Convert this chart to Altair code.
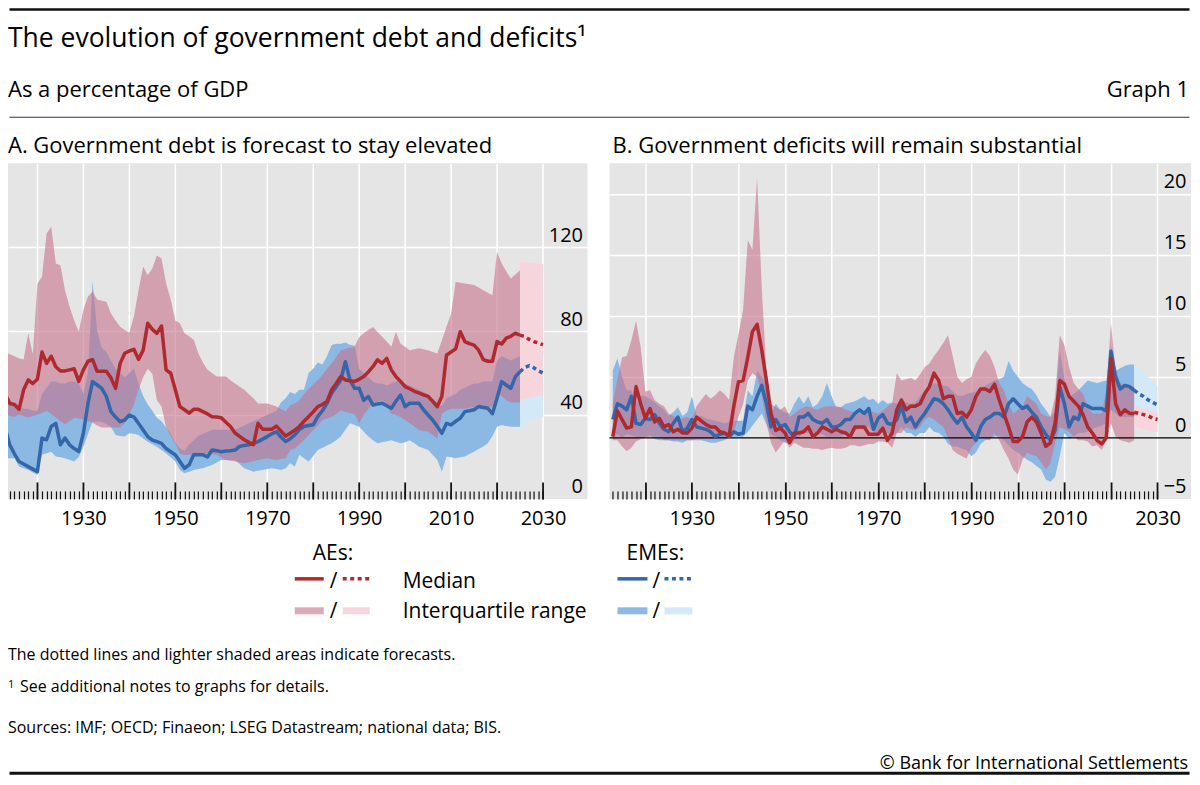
import altair as alt
import pandas as pd

FONT = "Open Sans"
GRAY = "#e5e5e5"
RED = "#ae2a2f"
BLUE = "#3566a9"
PINK = "#c7728a"
PINK_OP = 0.6
PINK_FC = "#f6d5dd"
LBLUE = "#8bb9e4"
LBLUE_FC = "#d3e9f7"

hist_years = list(range(1913, 2026))
fc_years = list(range(2025, 2031))
decades = list(range(1920, 2031, 10))

# ---------------- Panel A: government debt (% of GDP) ----------------
A_ae_med = [50, 45.5, 45, 42.7, 52, 56.7, 55, 57, 70, 64.6,
            68, 63, 61, 61, 61.5, 62, 56, 61.5, 65.6, 66.4,
            60.8, 60.8, 60.8, 57.7, 52.7, 64.6, 69.4, 70.5, 71.3, 66.5,
            70.8, 83.7, 80.8, 78.9, 82.4, 61.5, 59.9, 52, 44, 42.5,
            40.9, 42.7, 42.7, 41.6, 40.5, 39.2, 39, 38.7, 36.5, 34.5,
            31.4, 29.8, 28.2, 27, 25.8, 36, 33.2, 33.2, 33.2, 34.7,
            32.3, 30, 31.3, 32.8, 34.5, 37, 39.2, 41.5, 44, 45,
            46.5, 52, 55, 58.3, 56.7, 56.3, 56, 57, 58.3, 60.5,
            63, 66.3, 64.6, 67, 61.5, 58.3, 56, 53.5, 52.5, 51.3,
            50.5, 49.6, 48.9, 46.5, 44, 48.9, 68.5, 70, 71.5, 79.7,
            75, 74, 73.3, 70.9, 66.4, 65.6, 65.6, 75, 73.8, 76.6,
            77.5, 79, 78]
A_ae_lo = [40.2, 39.5, 39, 40.2, 39.5, 38.7, 39.5, 40.2, 41, 42,
           40.5, 38.7, 37, 35.6, 37, 38.7, 38.5, 38, 37, 36.3,
           35, 34, 34, 34, 34, 34, 36, 40.2, 45, 52,
           58, 62, 59.6, 47, 44, 34, 30, 26.5, 21.7, 20.9,
           21, 21, 21, 21.3, 21.7, 21.3, 21, 19.8, 18.6, 18.2,
           17.8, 17.4, 17, 17.5, 18, 18.6, 19, 19.4, 19, 18.6,
           19, 19.4, 23.3, 24, 26, 28, 30.5, 32.8, 35, 37.5,
           38.3, 39, 40.5, 42.2, 41.5, 41, 40.6, 36, 40, 43,
           45.5, 46.3, 47, 44, 40.6, 40, 39, 37.5, 36, 34.5,
           32.8, 32.4, 32, 30.5, 28.8, 40.6, 42, 43, 43, 43,
           43, 43.4, 43.8, 43.8, 43.8, 43.8, 44, 50, 49, 47,
           46, 46, 46]
A_ae_hi = [70, 69, 68, 67, 66.4, 79, 69, 102.7, 105.9, 126.5,
           129.7, 112.2, 111.4, 99.5, 91.6, 85, 79.7, 90, 96.5, 98.8,
           95, 94.5, 94, 88.4, 85, 82, 80.5, 79.3, 87, 99.5,
           110.6, 106.6, 109.8, 116, 114.6, 102.7, 95, 85, 83.7, 79,
           77.5, 75.9, 69.4, 65, 61.5, 60, 58.3, 58.3, 58.3, 56.5,
           55, 53.5, 52, 50, 48, 45.5, 45.5, 45.5, 44.8, 44,
           42.8, 41.6, 44.6, 45.5, 47, 50, 52.5, 54.5, 56.7, 59,
           62, 64.6, 67.5, 70.9, 71.5, 72, 72.5, 77, 79, 80.5,
           81.9, 79.5, 77.3, 75, 72.5, 79.7, 74, 72.5, 70.9, 71.3,
           71.8, 71.3, 70.9, 70, 69.3, 75.6, 82, 88.3, 103.5, 103,
           102.7, 102.3, 101.9, 100.7, 99.5, 98.3, 97.1, 117.8, 112.2, 108.5,
           105, 107, 109]
A_eme_med = [33.7, 25.7, 21.5, 17.8, 16.6, 15.4, 14.2, 13, 29, 28.2,
             34.5, 36, 25.8, 29, 25.8, 24, 22.6, 31.3, 45.5, 55.9,
             54.3, 52.7, 48.8, 41.6, 39, 36.8, 37.6, 40, 39, 36,
             32.8, 29.7, 28, 27.3, 26.5, 24, 22.5, 21, 17.8, 14.6,
             16.2, 21, 21, 21, 20, 23.3, 23, 22.5, 22.8, 23,
             23.3, 25, 25.5, 25.8, 26.5, 27.3, 28.5, 29.7, 31, 32,
             29.5, 27.3, 28.7, 30.5, 33, 34.5, 35, 35.3, 39.2, 42,
             45.5, 50.3, 53.5, 56.7, 65.4, 56.7, 52.7, 52.7, 47, 48.8,
             44.8, 45.2, 45.6, 44.4, 43.2, 46.5, 49.5, 44, 45.6, 45.6,
             45.6, 42.5, 40, 37.6, 34.5, 31.3, 36, 35.3, 37, 38.4,
             41.6, 42, 42.5, 44, 43.6, 43.2, 40.6, 48, 55.9, 54.3,
             52.7, 58.3, 60.6]
A_eme_lo = [19.4, 19.4, 19.4, 15.4, 14.6, 13.8, 12.6, 11.4, 21, 21.8,
            22.5, 20.2, 19.8, 19.4, 18.6, 17.8, 20, 24.9, 31, 36.8,
            36.8, 36.8, 35.6, 34.4, 30.4, 30, 29.7, 31.3, 31, 30.4,
            28.8, 27.3, 26, 24.9, 23.3, 21.7, 19.8, 17.8, 13.8, 12.2,
            13, 13.8, 14.2, 14.6, 15.4, 16.2, 17.4, 18.6, 18.6, 18.6,
            18.6, 16.6, 14.6, 13.8, 13, 13.4, 13.8, 14.2, 14.6, 14.2,
            13.8, 14.6, 17, 15.4, 21, 19.4, 17.8, 20.5, 23.3, 24.4,
            25.5, 26.5, 28, 29.7, 33, 36, 35.2, 34.4, 32, 29.7,
            28, 26.5, 27, 27.5, 28, 27.2, 26.5, 27, 28, 26.5,
            25, 24.2, 23.3, 21, 18.6, 13, 20.2, 19.8, 19.4, 19.8,
            20.2, 21.4, 22.5, 23.8, 25, 26.5, 30, 34.4, 35.2, 34.8,
            34.4, 34.4, 34.4]
A_eme_hi = [45, 45, 44, 44, 43, 43, 42, 42, 50, 53,
            56, 56, 55, 55, 56, 56, 55, 50, 60, 104,
            80, 72, 70, 66, 62, 60, 58, 60, 62, 55,
            49, 45, 42, 38.7, 37, 34, 31, 27, 24, 23,
            26, 28, 30, 31, 32, 33, 33, 33, 33, 33,
            33, 34, 35, 36, 37, 38, 39, 40, 41, 42,
            46, 48, 51, 50, 52, 52, 60, 62, 65, 64,
            68, 73.3, 74, 74, 74.5, 73.5, 73, 62, 60, 58,
            56, 55, 55, 54, 55, 56, 57, 55, 54, 53,
            52, 51, 50, 48, 46, 44, 48, 49, 50, 52,
            53, 54, 55, 55, 56, 56, 56, 66, 68, 67,
            66, 67, 68]
# forecasts 2025-2030
A_fc_ae_med = [78, 77.5, 76, 75, 74.3, 73.5]
A_fc_ae_lo = [47, 47.5, 48, 48.5, 49, 49.5]
A_fc_ae_hi = [113, 113, 112.5, 112.5, 112, 112]
A_fc_eme_med = [60.6, 62.6, 63.5, 62.5, 61, 60]
A_fc_eme_lo = [33, 35, 36.5, 37.5, 38.5, 39]
A_fc_eme_hi = [68, 69, 70, 70, 70, 70]

# ---------------- Panel B: government deficits (% of GDP) ----------------
B_ae_med = [0.1, 2.2, 1.5, 0.8, 0.9, 4.2, 2.8, 1.6, 2.4, 1.3,
            1.6, 0.9, 1.1, 0.5, 0.7, 0.4, 0.4, 0.8, 1.7, 1.4,
            1.1, 0.9, 0.9, 0.5, 0.4, 0.2, 2.6, 4.6, 4.7, 6.6,
            8.7, 9.3, 7.2, 4.7, 2, 0.6, 0.8, 0.4, -0.4, 0.4,
            0.4, 0.5, 0.9, 0.1, 0.4, 0.9, 0.7, 0.5, 0.7, 0.5,
            0.4, 0.1, 0.9, 0.9, 0.9, 0.3, 0.3, 0.3, 0.8, -0.2,
            0.4, 2.3, 3.1, 2.3, 2.6, 2.6, 2.8, 3.6, 4.2, 5.3,
            4.7, 3.2, 3.4, 3.4, 2, 2.1, 1.7, 2.3, 3.4, 4,
            4, 3.8, 4.4, 3.1, 2, 0.9, -0.3, -0.3, 0.1, 1.3,
            1.7, 1.3, 0.4, -0.7, -0.4, 1.2, 4.7, 4.4, 3.4, 3,
            2.6, 1.9, 0.9, 0.4, -0.2, -0.5, 0.0, 6.5, 2.8, 1.9,
            2.3, 2, 2]
B_ae_lo = [-0.2, -0.2, -0.7, -1.1, -0.8, -0.3, -0.1, 0, 0.1, 0.1,
           0.1, -0.2, -0.2, -0.2, -0.2, -0.2, -0.2, -0.2, -0.1, -0.1,
           -0.1, -0.1, -0.1, 0, 0, 0.1, 0.5, 1.7, 2.8, 4.7,
           5.3, 5, 3.5, 1.2, -0.4, -1.2, -0.7, -0.2, -0.8, -0.4,
           -0.6, -0.8, -0.8, -0.9, -0.9, -1, -0.9, -0.8, -0.9, -0.9,
           -0.8, -0.6, -0.6, -0.7, -0.6, -0.5, -0.5, -0.3, -0.3, -0.4,
           -0.8, 0.4, 0.4, 0.9, 0.7, 0.6, 0.9, 1.5, 1.7, 1.5,
           1.2, 0.9, 0, -1, -1.3, -1.5, -1.7, -0.8, -0.4, 0.1,
           -0.1, -0.2, 0.4, -0.2, -1, -1.7, -2.6, -3, -1.8, -1.2,
           -1.4, -1.5, -2, -2.6, -2.1, -0.4, 0.9, 0.7, 0.5, 0.1,
           -0.2, -0.2, -0.3, -0.7, -0.6, -1.0, -0.2, 1.2, 0.1, -0.2,
           -0.3, -0.4, -0.2]
B_ae_hi = [2.8, 4.8, 6.6, 6.7, 8, 9.6, 7.4, 3.8, 3.9, 3.1,
           2.8, 2.6, 2, 1.8, 1.5, 1.6, 1.7, 1.5, 2.6, 3.1,
           3.6, 3.2, 3.5, 3.9, 3.6, 3.1, 6.6, 8.5, 10.5, 16.2,
           15.4, 21.3, 12.3, 5.5, 2.8, 2.5, 2.3, 2.6, 1.7, 2,
           2.3, 2.5, 2.6, 2.4, 2.3, 2.5, 2.6, 2.6, 2.6, 2.5,
           2.3, 2.2, 2.1, 2, 2.1, 2.3, 2.1, 2, 2.2, 2.6,
           2.8, 5.3, 4.7, 4.8, 4.9, 4.7, 5.2, 5.8, 6.1, 6.7,
           7.2, 7.8, 8.4, 6.7, 5, 4.5, 4.8, 5, 6.1, 6.7,
           7.2, 6.7, 5.8, 4.5, 3.9, 2.8, 2, 2.3, 2.6, 3.4,
           3.1, 2.8, 2, 1.8, 1.7, 3.4, 8.4, 7.6, 5.8, 4.5,
           4, 3.6, 2.6, 2, 2, 2, 3.9, 9.4, 5.5, 4.5,
           4.3, 4.2, 4.2]
B_eme_med = [1.5, 2.8, 2.6, 2.3, 3.4, 1.2, 1.1, 1.6, 1.5, 1.9,
             1.2, 0.7, 0.5, 1.2, 1.7, 0.5, 0.8, 1.5, 0.9, 0.8,
             0.7, 0.5, 0.1, 0.3, 0.4, 0.1, 0.5, 0.3, 0.4, 2.6,
             2.3, 3.4, 4.3, 2.8, 0.9, 1.5, 0.9, 1.1, 0.5, 0.1,
             1.7, 1.7, 2, 1.5, 1.3, 1.2, 1.5, 0.9, 0.9, 1.1,
             1.5, 1.5, 2, 2.3, 2, 2.4, 0.7, 1.6, 1.9, 1.2,
             1.1, 1.5, 2.6, 1.3, 1.7, 0.9, 1.5, 2, 2.6, 3.2,
             3.1, 2.8, 2.3, 1.7, 1.2, 1.7, 0.9, 0.4, -0.2, 0.9,
             1.5, 1.7, 2, 2, 1.7, 2.8, 3.2, 2.8, 2.4, 2.6,
             2.1, 1.7, 0.9, 0.3, -0.2, 0.6, 4.2, 2.8, 0.9, 1.7,
             1.5, 2.8, 2.6, 2.4, 2.4, 2.4, 2.2, 7.1, 5, 4,
             4.3, 4.2, 3.9]
B_eme_lo = [0, 0.3, 0, 0.3, 0.2, 0.1, 0, 0.1, 0.2, -0.1,
            -0.2, -0.2, -0.2, -0.3, -0.3, -0.4, -0.2, -0.2, -0.2, -0.2,
            -0.3, -0.4, -0.4, -0.3, -0.2, 0, 0.1, 0.1, 0.1, 0.5,
            1, 1.5, 2, 1.1, 0.3, 0.1, -0.2, -0.4, -0.5, -0.2,
            0.1, 0.4, 0.4, 0.4, 0.4, 0.3, 0.1, 0.1, 0.1, 0.1,
            0.4, 0.4, 0.6, 0.7, 0.7, 0.9, 0.5, 0.4, 0.4, 0.4,
            0.1, 0.4, 0.9, 0.4, 0.4, 0.1, 0.4, 0.4, 0.9, 0.5,
            0.4, 0.1, -0.5, -0.7, -0.7, -0.9, -1, -1.5, -1.2, -0.5,
            -0.2, -0.1, 0.1, 0.2, -0.2, -0.6, -1, -1.2, -1.5, -1.8,
            -2, -2.3, -2.6, -3.4, -3.6, -3.2, -1.5, 0.4, -0.1, 0.1,
            0.4, 0.4, 0.5, 0.7, 0.9, 1, 1.2, 2.3, 2, 1.7,
            1.7, 1.7, 1.7]
B_eme_hi = [5.5, 6.5, 5, 3.9, 3.9, 2.8, 3.5, 3.4, 3.2, 2.9,
            2.6, 2.3, 1.8, 2.1, 2.5, 1.8, 2.1, 3.4, 1.8, 1.8,
            1.6, 1.5, 1.4, 1.3, 1.2, 1.3, 1.4, 1.4, 1.4, 3.9,
            3.4, 5.5, 5, 4.5, 2, 2.8, 2.3, 2.1, 2, 2.8,
            3.4, 2.8, 3.4, 2.5, 2.8, 3.4, 4.5, 3.4, 2.5, 2.5,
            2.8, 2.9, 3, 3.2, 3.4, 3.1, 3.2, 2.8, 3.1, 2.8,
            2.9, 2.8, 3.1, 2.9, 2.8, 2.9, 3.4, 3.9, 4.2, 4.5,
            4.4, 4.3, 4.2, 3.8, 3.5, 3.4, 3.6, 3.7, 3.8, 4.1,
            4.3, 4.5, 4.7, 4.8, 5, 6.3, 5.5, 5, 4.5, 4.2,
            4, 3.5, 2.8, 2.3, 1.7, 2.2, 7.2, 4.8, 3.4, 3.6,
            3.9, 4.3, 4.7, 4.6, 4.5, 4.6, 4.7, 7.5, 5.5, 5.7,
            5.9, 6, 6]
B_fc_ae_med = [2.1, 2.0, 1.9, 1.8, 1.6, 1.5]
B_fc_ae_lo = [0.9, 0.8, 0.7, 0.6, 0.5, 0.5]
B_fc_ae_hi = [2.7, 2.5, 2.4, 2.3, 2.1, 2.0]
B_fc_eme_med = [3.9, 3.6, 3.4, 3.1, 2.9, 2.7]
B_fc_eme_lo = [1.7, 1.6, 1.5, 1.4, 1.3, 1.2]
B_fc_eme_hi = [6.1, 5.8, 5.4, 5.0, 4.6, 4.2]

# ---------------- texts ----------------
TITLE = "The evolution of government debt and deficits\u00b9"
SUBTITLE = "As a percentage of GDP"
GRAPH_NO = "Graph 1"
TITLE_A = "A. Government debt is forecast to stay elevated"
TITLE_B = "B. Government deficits will remain substantial"
LEG_AE = "AEs:"
LEG_EME = "EMEs:"
LEG_MED = "Median"
LEG_IQR = "Interquartile range"
NOTE1 = "The dotted lines and lighter shaded areas indicate forecasts."
NOTE2 = "See additional notes to graphs for details."
SOURCES = "Sources: IMF; OECD; Finaeon; LSEG Datastream; national data; BIS."
COPYRIGHT = "\u00a9 Bank for International Settlements"


def frame(years, **cols):
    n = min([len(years)] + [len(v) for v in cols.values()])
    d = {"year": years[:n]}
    for k, v in cols.items():
        d[k] = v[:n]
    return pd.DataFrame(d)


A_hist = frame(hist_years, ae_med=A_ae_med, ae_lo=A_ae_lo, ae_hi=A_ae_hi,
               eme_med=A_eme_med, eme_lo=A_eme_lo, eme_hi=A_eme_hi)
A_fc = frame(fc_years, ae_med=A_fc_ae_med, ae_lo=A_fc_ae_lo, ae_hi=A_fc_ae_hi,
             eme_med=A_fc_eme_med, eme_lo=A_fc_eme_lo, eme_hi=A_fc_eme_hi)
B_hist = frame(hist_years, ae_med=B_ae_med, ae_lo=B_ae_lo, ae_hi=B_ae_hi,
               eme_med=B_eme_med, eme_lo=B_eme_lo, eme_hi=B_eme_hi)
B_fc = frame(fc_years, ae_med=B_fc_ae_med, ae_lo=B_fc_ae_lo, ae_hi=B_fc_ae_hi,
             eme_med=B_fc_eme_med, eme_lo=B_fc_eme_lo, eme_hi=B_fc_eme_hi)

DUMMY = pd.DataFrame({"k": [0]})


def txt(s, x, y, size, align="left"):
    return alt.Chart(DUMMY).mark_text(
        text=s, align=align, baseline="alphabetic", fontSize=size,
        font=FONT, color="#000"
    ).encode(x=alt.value(x), y=alt.value(y))


def seg(x1, x2, y, color, width, dash=None, opacity=1.0):
    kw = dict(color=color, strokeWidth=width, strokeCap="butt", opacity=opacity)
    if dash is not None:
        kw["strokeDash"] = dash
    return alt.Chart(DUMMY).mark_rule(**kw).encode(
        x=alt.value(x1), x2=alt.value(x2), y=alt.value(y))


DOTS = [4, 3.5]


def panel(hist, fc, xdom, ydom, lab_vals, grid_vals, tick_years, width, height,
          zero_line, extras):
    xs = alt.Scale(domain=xdom, nice=False, zero=False)
    ys = alt.Scale(domain=ydom, nice=False, zero=False)
    ax_xgrid = alt.Axis(orient="bottom", values=decades, grid=True, gridColor="white",
                        gridWidth=1.5, gridOpacity=1, labels=False, ticks=False,
                        domain=False, title=None)
    ax_xminor = alt.Axis(orient="bottom", values=tick_years, grid=False, labels=False,
                         ticks=True, tickSize=8, tickWidth=1.2, tickColor="#111",
                         domain=False, offset=-8, title=None, zindex=1)
    ax_xmajor = alt.Axis(orient="bottom", values=decades, grid=False, labels=True,
                         format="d",
                         labelExpr="datum.value % 20 == 10 ? datum.label : ''",
                         labelFont=FONT, labelFontSize=20, labelColor="#000",
                         labelPadding=10, labelFlush=False, labelOverlap=False,
                         ticks=True, tickSize=17, tickWidth=1.8, tickColor="#111",
                         domain=False, offset=-17, title=None, zindex=1)
    ax_ygrid = alt.Axis(orient="left", values=grid_vals, grid=True, gridColor="white",
                        gridWidth=1.5, gridOpacity=1, labels=False, ticks=False,
                        domain=False, title=None)
    ax_ylab = alt.Axis(orient="right", values=lab_vals, grid=False, ticks=False,
                       tickSize=0, domain=False, labels=True, labelAlign="right",
                       labelBaseline="alphabetic", labelOffset=-6, labelPadding=0,
                       offset=-5, labelFont=FONT, labelFontSize=20, labelColor="#000",
                       labelFlush=False, labelOverlap=False, title=None, zindex=1)

    def X(axis):
        return alt.X("year:Q", scale=xs, axis=axis, title=None)

    def Y(field, axis):
        return alt.Y(field + ":Q", scale=ys, axis=axis, title=None)

    layers = [
        alt.Chart(hist).mark_area(color=LBLUE, clip=True).encode(
            x=X(ax_xgrid), y=Y("eme_lo", ax_ygrid), y2="eme_hi:Q"),
        alt.Chart(fc).mark_area(color=LBLUE_FC, clip=True).encode(
            x=X(ax_xminor), y=Y("eme_lo", ax_ylab), y2="eme_hi:Q"),
        alt.Chart(hist).mark_area(color=PINK, opacity=PINK_OP, clip=True).encode(
            x=X(ax_xmajor), y=Y("ae_lo", None), y2="ae_hi:Q"),
        alt.Chart(fc).mark_area(color=PINK_FC, clip=True).encode(
            x=X(None), y=Y("ae_lo", None), y2="ae_hi:Q"),
    ]
    if zero_line:
        layers.append(alt.Chart(DUMMY).mark_rule(color="#000", strokeWidth=1.3).encode(
            y=alt.YDatum(0, axis=None)))
    layers += [
        alt.Chart(hist).mark_line(color=BLUE, strokeWidth=3.5, strokeJoin="round",
                                  clip=True).encode(x=X(None), y=Y("eme_med", None)),
        alt.Chart(fc).mark_line(color=BLUE, strokeWidth=3.5, strokeDash=DOTS,
                                clip=True).encode(x=X(None), y=Y("eme_med", None)),
        alt.Chart(hist).mark_line(color=RED, strokeWidth=3.5, strokeJoin="round",
                                  clip=True).encode(x=X(None), y=Y("ae_med", None)),
        alt.Chart(fc).mark_line(color=RED, strokeWidth=3.5, strokeDash=DOTS,
                                clip=True).encode(x=X(None), y=Y("ae_med", None)),
    ]
    layers += extras
    return alt.layer(*layers).resolve_axis(x="independent", y="independent").properties(
        width=width, height=height,
        view=alt.ViewBackground(fill=GRAY, strokeWidth=0))


# header / legend / footer, positioned relative to panel A's plot origin
RIGHT = 1184
header = [
    seg(1.5, RIGHT - 1.5, -153.75, "#111", 2.5),
    txt(TITLE, 0, -116, 26.5),
    txt(SUBTITLE, 0, -66, 22),
    txt(GRAPH_NO, RIGHT - 2, -66, 22, align="right"),
    seg(1.5, RIGHT - 1.5, -46, "#333", 1.2),
    txt(TITLE_A, 0, -10, 22),
]
legend = [
    txt(LEG_AE, 305, 397, 21),
    seg(287, 316, 416, RED, 3.5),
    txt("/", 322, 425, 21),
    seg(335, 362, 416, RED, 3.5, dash=DOTS),
    txt(LEG_MED, 395, 425, 21),
    seg(287, 316, 448, PINK, 7, opacity=PINK_OP),
    txt("/", 322, 455, 21),
    seg(335, 362, 448, PINK_FC, 7),
    txt(LEG_IQR, 395, 455, 21),
    txt(LEG_EME, 619, 397, 21),
    seg(610, 640, 416, BLUE, 3.5),
    txt("/", 645, 425, 21),
    seg(657, 685, 416, BLUE, 3.5, dash=DOTS),
    seg(610, 640, 448, LBLUE, 7),
    txt("/", 645, 455, 21),
    seg(657, 685, 448, LBLUE_FC, 7),
]
footer = [
    txt(NOTE1, 0, 497, 16),
    txt("1", 0, 525, 11),
    txt(NOTE2, 12, 529, 16),
    txt(SOURCES, 0, 570, 16),
    txt(COPYRIGHT, RIGHT - 3, 606, 18, align="right"),
    seg(1.5, RIGHT - 1.5, 610.5, "#111", 3),
]

WA, GAP, WB = 580, 22, 582
pA = panel(A_hist, A_fc, [1913.6, 1913.6 + WA / 4.6], [0, 160], [0, 40, 80, 120],
           [40, 80, 120], list(range(1914, 2031)), WA, 336, False,
           header + legend + footer)
pB = panel(B_hist, B_fc, [1912.3, 1912.3 + WB / 4.66], [-5, 22.5],
           [-5, 0, 5, 10, 15, 20], [5, 10, 15, 20], list(range(1913, 2031)),
           WB, 336, True, [txt(TITLE_B, 3, -10, 22)])

chart = alt.hconcat(pA, pB, spacing=GAP, bounds="flush").properties(
    padding=0
).configure(font=FONT).configure_view(strokeWidth=0).configure_axis(labelFont=FONT)

chart.save("out.html", embed_options={"renderer": "svg", "actions": False})
